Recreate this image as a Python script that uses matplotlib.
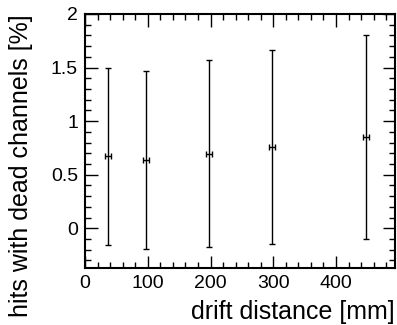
import numpy as np
import matplotlib
matplotlib.use("Agg")
import matplotlib.pyplot as plt
from matplotlib.ticker import MultipleLocator

plt.rcParams['font.family'] = ['Liberation Sans', 'DejaVu Sans']

# drift distance [mm] and fraction of hits with dead channels [%]
distance = [37, 97, 198, 298, 448]
distance_err = [5, 5, 5, 5, 5]
hits = [0.676, 0.638, 0.698, 0.757, 0.850]
err_up = [0.824, 0.829, 0.869, 0.907, 0.950]
err_down = [0.832, 0.828, 0.869, 0.907, 0.950]

fig = plt.figure(figsize=(3.97, 3.25), dpi=100)
ax = fig.add_axes([85/397, 1 - 268/325, 310/397, 254/325])

ax.errorbar(distance, hits, xerr=distance_err, yerr=[err_down, err_up],
            fmt='none', ecolor='black', elinewidth=1.0, capsize=2.5, capthick=1.0)

ax.set_xlim(0, 494)
ax.set_ylim(-0.37, 2.0)

ax.xaxis.set_major_locator(MultipleLocator(100))
ax.xaxis.set_minor_locator(MultipleLocator(20))
ax.yaxis.set_major_locator(MultipleLocator(0.5))
ax.yaxis.set_minor_locator(MultipleLocator(0.1))
ax.set_yticks([0, 0.5, 1, 1.5, 2])
ax.set_yticklabels(['0', '0.5', '1', '1.5', '2'])

ax.tick_params(which='both', direction='in', top=True, right=True, labelsize=14, width=1.0)
ax.tick_params(which='major', length=9, pad=5)
ax.tick_params(which='minor', length=4.5)
for s in ax.spines.values():
    s.set_linewidth(1.5)

ax.set_xlabel('drift distance [mm]', fontsize=18, loc='right', labelpad=6)
ax.set_ylabel('hits with dead channels [%]', fontsize=18, loc='top', labelpad=13)

fig.savefig('out.png', dpi=100)
